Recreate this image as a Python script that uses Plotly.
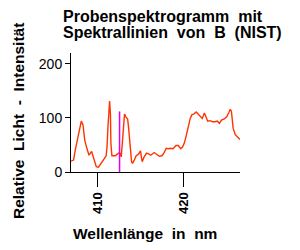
import plotly.graph_objects as go

wavelength = [406.9, 407.2, 407.4, 407.7, 407.9, 408.1, 408.3, 408.5, 408.8, 409.0, 409.3, 409.5,
              409.85, 410.1, 410.3, 410.5, 410.8, 411.0, 411.1, 411.2, 411.3, 411.36, 411.4, 411.5,
              411.55, 411.67, 412.06, 412.3, 412.56, 412.76, 412.87, 413.0, 413.14, 413.3, 413.5,
              413.6, 413.7, 413.84, 413.96, 414.07, 414.27, 414.5, 414.77, 415.0, 415.1, 415.2,
              415.4, 415.7, 416.0, 416.2, 416.6, 416.9, 417.2, 417.5, 417.76, 418.0, 418.26, 418.5,
              418.77, 418.9, 419.15, 419.4, 419.7, 419.9, 420.1, 420.3, 420.5, 420.8, 421.0, 421.2,
              421.5, 421.7, 421.9, 422.2, 422.45, 422.65, 422.84, 423.1, 423.4, 423.7, 423.95, 424.2,
              424.45, 424.77, 425.05, 425.3, 425.47, 425.6, 425.67, 425.8, 426.05, 426.3, 426.6]
intensity = [20, 22, 41, 62, 81, 94, 87, 59, 41, 31, 38, 28,
             10, 9, 13, 19, 25, 30, 47, 81, 115, 106, 131, 106,
             53, 30, 30, 33, 36, 28, 47, 84, 107, 102, 98,
             84, 59, 41, 19, 16, 22, 30, 33, 39, 28, 19,
             27, 35, 33, 31, 36, 33, 29, 30, 36, 44, 43, 44,
             43, 45, 49, 49, 43, 46, 53, 65, 81, 99, 106, 107,
             111, 107, 104, 99, 109, 101, 94, 95, 93, 93, 94, 90,
             96, 98, 102, 110, 116, 112, 96, 81, 69, 64, 60]

line_wavelength = [412.56, 412.56]
line_intensity = [0, 112]

x_ticks = [410, 420]
y_ticks = [0, 100, 200]

fig = go.Figure()
fig.add_trace(go.Scatter(x=wavelength, y=intensity, mode="lines",
                         line=dict(color="#FF3300", width=1.4), hoverinfo="skip"))
fig.add_trace(go.Scatter(x=line_wavelength, y=line_intensity, mode="lines",
                         line=dict(color="#E600E6", width=1.5), hoverinfo="skip"))

L, R, T, B = 71, 60, 53, 78
fig.update_layout(
    width=300, height=250,
    margin=dict(l=L, r=R, t=T, b=B),
    paper_bgcolor="white", plot_bgcolor="white",
    showlegend=False,
    font=dict(family="Liberation Sans, Arial, sans-serif", color="black"),
    xaxis=dict(range=[406.9, 426.6], tickvals=x_ticks, ticktext=[str(v) for v in x_ticks],
               tickangle=-90, ticks="outside", ticklen=14, tickcolor="black",
               showline=True, linecolor="black", linewidth=1, showgrid=False, zeroline=False,
               tickfont=dict(size=13, weight="bold")),
    yaxis=dict(range=[0, 220], tickvals=y_ticks, ticks="outside", ticklen=5, tickcolor="black",
               showline=True, linecolor="black", linewidth=1, showgrid=False, zeroline=False,
               tickfont=dict(size=14)),
)

pw, ph = 300 - L - R, 250 - T - B
def ann(text, px, py, size, xanchor="center", angle=0):
    fig.add_annotation(text=text, xref="paper", yref="paper",
                       x=(px - L) / pw, y=(250 - B - py) / ph,
                       xanchor=xanchor, yanchor="middle", showarrow=False,
                       textangle=angle, font=dict(size=size))

ann("<b>Probenspektrogramm  mit</b>", 61, 16, 16, xanchor="left")
ann("<b>Spektrallinien  von  B  (NIST)</b>", 61, 33, 16, xanchor="left")
ann("<b>Wellenlänge  in  nm</b>", 145, 233, 15.5)
ann("<b>Relative  Licht  -  Intensität</b>", 18, 121, 15.5, angle=-90)

fig.write_html("out.html")
